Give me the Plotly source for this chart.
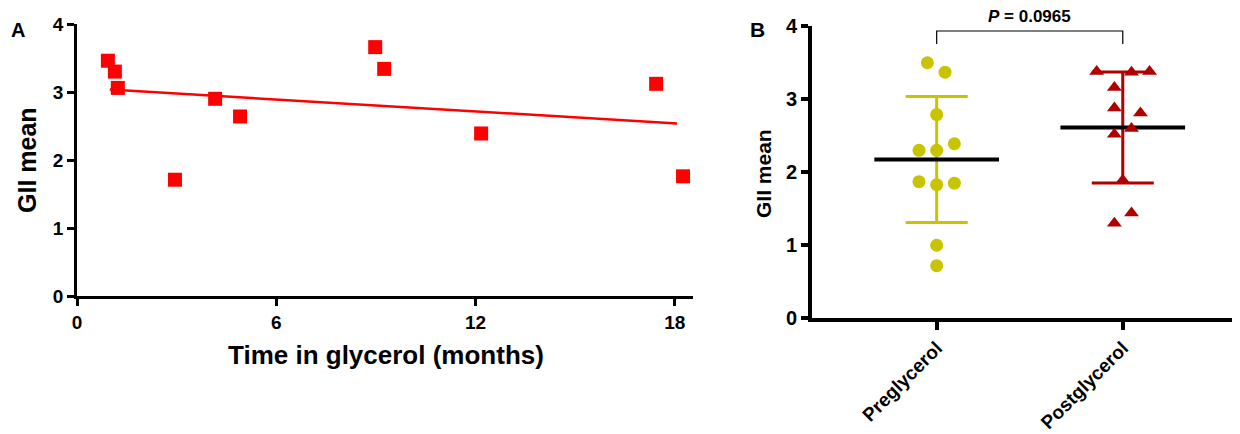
import numpy as np
import plotly.graph_objects as go

# ---------------- Data ----------------
# Panel A: time in glycerol (months) vs GII mean
time_months = [0.93, 1.14, 1.23, 2.95, 4.16, 4.91, 8.98, 9.25, 12.17, 17.44, 18.25]
gii_time = [3.46, 3.30, 3.06, 1.71, 2.90, 2.64, 3.66, 3.34, 2.39, 3.12, 1.76]
x_ticks_a = [0, 6, 12, 18]

# Panel B: GII mean pre / post glycerol
categories = ["Preglycerol", "Postglycerol"]
pre_values = [3.49, 3.36, 2.78, 2.29, 2.29, 2.38, 1.86, 1.82, 1.84, 0.99, 0.71]
pre_jitter = [-0.05, 0.045, 0.0, -0.095, 0.0, 0.095, -0.095, 0.0, 0.095, 0.0, 0.0]
post_values = [3.37, 3.36, 3.37, 3.15, 2.87, 2.80, 2.59, 2.51, 1.88, 1.43, 1.29]
post_jitter = [-0.14, 0.047, 0.144, -0.045, -0.045, 0.095, 0.047, -0.045, 0.0, 0.047, -0.045]
y_ticks = [0, 1, 2, 3, 4]
p_label = "<i>P</i> = 0.0965"

# ---------------- Styles ----------------
RED = "#ff0000"
YEL = "#c8c400"
DRED = "#b00000"
ARIAL = "Liberation Sans, Arial, Helvetica, sans-serif"

# page body has an 8px margin: figure is drawn from (8, 8)
OFF = 8
W, H = 1240 - OFF, 434 - OFF


def px(x):
    return (x - OFF) / W


def py(y):
    return 1 - (y - OFF) / H


fig = go.Figure()

# Panel A scatter
fig.add_trace(go.Scatter(x=time_months, y=gii_time, mode="markers",
                         marker=dict(symbol="square", size=14, color=RED),
                         xaxis="x", yaxis="y", showlegend=False, cliponaxis=False))
# regression line
slope, intercept = np.polyfit(time_months, gii_time, 1)
xl = np.array([min(time_months) + 0.06, max(time_months) - 0.18])
fig.add_trace(go.Scatter(x=xl, y=slope * xl + intercept, mode="lines",
                         line=dict(color=RED, width=2.5),
                         xaxis="x", yaxis="y", showlegend=False))

# Panel B
groups = [(0, pre_values, pre_jitter, YEL, "circle"),
          (1, post_values, post_jitter, DRED, "triangle-up")]
for pos, vals, jit, col, sym in groups:
    m = float(np.mean(vals))
    sd = float(np.std(vals, ddof=1))
    fig.add_trace(go.Scatter(x=[pos], y=[m], mode="markers",
                             marker=dict(size=1, color="rgba(0,0,0,0)"),
                             error_y=dict(type="constant", value=sd, color=col,
                                          thickness=3, width=31),
                             xaxis="x2", yaxis="y2", showlegend=False))
    fig.add_trace(go.Scatter(x=[pos - 0.335, pos + 0.335], y=[m, m], mode="lines",
                             line=dict(color="black", width=4),
                             xaxis="x2", yaxis="y2", showlegend=False))
    fig.add_trace(go.Scatter(x=[pos + j for j in jit], y=vals, mode="markers",
                             marker=dict(symbol=sym, size=13, color=col),
                             xaxis="x2", yaxis="y2", showlegend=False, cliponaxis=False))

axis_common = dict(showgrid=False, zeroline=False, showline=True, linecolor="black",
                   ticks="outside", tickcolor="black", automargin=False)


def label(text, x, y, size, angle=0, xref="paper"):
    return dict(text=text, x=x, y=y, xref=xref, yref="paper", showarrow=False,
                xanchor="center", yanchor="middle", textangle=angle,
                font=dict(family=ARIAL, size=size, color="black", weight="bold"))


fig.update_layout(
    template="none",
    width=W, height=H,
    margin=dict(l=0, r=0, t=0, b=0, pad=0),
    paper_bgcolor="white", plot_bgcolor="white",
    xaxis=dict(**axis_common, domain=[px(77), px(693)], range=[0, 18.55],
               tickvals=x_ticks_a, linewidth=2.5, ticklen=7, tickwidth=2.5,
               tickfont=dict(family=ARIAL, size=19, color="black", weight="bold"),
               anchor="y"),
    yaxis=dict(**axis_common, domain=[py(296), py(24)], range=[0, 4],
               tickvals=y_ticks, linewidth=2.5, ticklen=7, tickwidth=2.5,
               tickfont=dict(family=ARIAL, size=19, color="black", weight="bold"),
               anchor="x"),
    xaxis2=dict(**axis_common, domain=[px(812), px(1240)], range=[-0.67, 1.63],
                tickvals=[0, 1], ticktext=categories, tickangle=-45,
                linewidth=4, ticklen=8, tickwidth=4,
                tickfont=dict(family=ARIAL, size=19, color="black", weight="bold"),
                anchor="y2"),
    yaxis2=dict(**axis_common, domain=[py(317.5), py(25.5)], range=[0, 4],
                tickvals=y_ticks, linewidth=4, ticklen=7, tickwidth=4,
                tickfont=dict(family=ARIAL, size=20, color="black", weight="bold"),
                anchor="x2"),
    shapes=[dict(type="path", xref="x2", yref="paper",
                 path="M 0,{b} L 0,{t} L 1,{t} L 1,{b}".format(b=py(44), t=py(31)),
                 line=dict(color="black", width=1.2))],
    annotations=[
        label("A", px(18), py(30), 20),
        label("B", px(757.5), py(29.5), 21),
        label("GII mean", px(27), py(160), 25, angle=-90),
        label("Time in glycerol (months)", px(386), py(355), 26),
        label("GII mean", px(763), py(174), 21, angle=-90),
        label(p_label, 0.5, py(16), 17, xref="x2"),
    ],
)

fig.write_html("out.html")
